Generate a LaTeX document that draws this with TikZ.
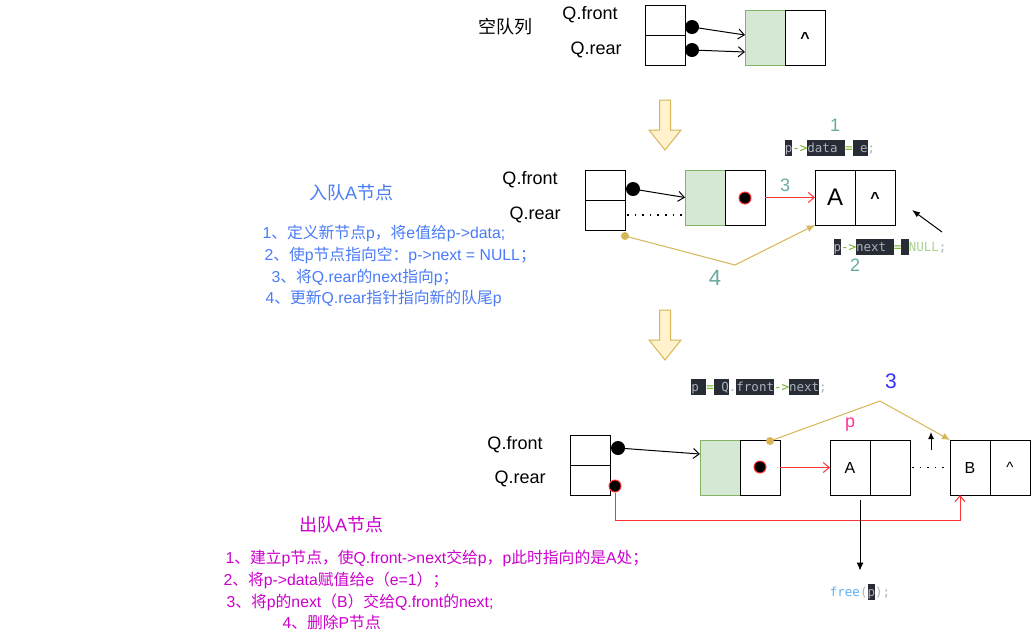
\documentclass[tikz,border=0pt]{standalone}
\usepackage{fontspec}
\setmainfont{Liberation Sans}
\newfontfamily\cjk{Noto Sans CJK SC}
\newfontfamily\codefont{DejaVu Sans Mono}
\usetikzlibrary{arrows.meta,calc}
\definecolor{gfill}{HTML}{D5E8D4}
\definecolor{gdraw}{HTML}{82B366}
\definecolor{yfill}{HTML}{FFF2CC}
\definecolor{ydraw}{HTML}{D6B656}
\definecolor{teal1}{HTML}{67AB9F}
\definecolor{blue1}{HTML}{4A7BF7}
\definecolor{mag1}{HTML}{CC00CC}
\definecolor{red1}{HTML}{FF3333}
\definecolor{blue3}{HTML}{3333FF}
\definecolor{pink1}{HTML}{FF3399}
\definecolor{codebg}{HTML}{282C34}
\definecolor{codefg}{HTML}{ABB2BF}
\definecolor{codeop}{HTML}{6FAE1E}
\definecolor{codenull}{HTML}{A5D38A}
\definecolor{codefree}{HTML}{61AFEF}
\newcommand\hlc[1]{{\setlength\fboxsep{0pt}\colorbox{codebg}{\rule[-4pt]{0pt}{16pt}\textcolor{codefg}{#1}}}}
\newcommand\gop[1]{\textcolor{codeop}{#1}}
\newcommand\pun[1]{\textcolor{codefg}{#1}}
\newcommand\cspace{\hphantom{x}}
\begin{document}
\begin{tikzpicture}[x=1pt,y=-1pt,line width=1pt,
  cell/.style={draw=black,fill=white,minimum width=40pt,minimum height=30pt,inner sep=0pt,outer sep=0pt},
  tcell/.style={cell,minimum height=55pt},
  gcell/.style={tcell,fill=gfill,draw=gdraw},
  bdot/.style={circle,fill=black,inner sep=0pt,minimum size=14pt},
  rdot/.style={circle,fill=black,draw=red1,line width=1pt,inner sep=0pt,minimum size=12pt},
  ydot/.style={circle,fill=ydraw,inner sep=0pt,minimum size=8pt},
  oarr/.style={-{Straight Barb[length=6pt,width=10pt]}},
  farr/.style={-{Latex[length=8pt,width=7pt]}},
  lbl/.style={inner sep=0pt,font=\fontsize{18}{21}\selectfont},
  num/.style={inner sep=0pt,text=teal1,font=\fontsize{18}{21}\selectfont},
  code/.style={inner sep=0pt,font=\codefont\fontsize{12.5}{15}\selectfont},
  btxt/.style={inner sep=0pt,anchor=west,text=blue1,font=\fontsize{15.8}{18}\selectfont},
  mtxt/.style={inner sep=0pt,anchor=west,text=mag1,font=\fontsize{15.8}{18}\selectfont},
  fat/.style={fill=yfill,draw=ydraw,line width=1pt}]
\useasboundingbox[fill=white] (0,0) rectangle (1032,641);

% ---------- top: empty queue ----------
\node[lbl] (t0) at (505,27) {\cjk 空队列};
\node[lbl] (qf1) at (590,15) {Q.front};
\node[lbl] (qr1) at (596,50) {Q.rear};
\node[cell] (s1a) at (665,20) {};
\node[cell] (s1b) at (665,50) {};
\node[gcell] (g1) at (765,37.5) {};
\node[tcell,font=\bfseries\fontsize{16}{18}\selectfont] (w1) at (805,37.5) {\textasciicircum};
\draw[oarr] (692,27) -- ([yshift=2.5pt]g1.west);
\draw[oarr] (692,50) -- ([yshift=-14.5pt]g1.west);
\node[bdot] (d1) at (692,27) {};
\node[bdot] (d2) at (692,50) {};

% fat arrow 1
\draw[fat] (659.5,100) -- (670.5,100) -- (670.5,130) -- (681,130) -- (665,150) -- (649,130) -- (659.5,130) -- cycle;

% ---------- middle: enqueue ----------
\node[num] (n1) at (835,125) {1};
\node[code] (c1) at (830,148) {\hlc{p}\gop{->}\hlc{data\cspace}\gop{=}\hlc{\cspace e}\pun{;}};
\node[lbl] (qf2) at (530,180) {Q.front};
\node[lbl] (qr2) at (535,215) {Q.rear};
\node[cell] (s2a) at (605,185) {};
\node[cell] (s2b) at (605,215) {};
\node[gcell] (g2) at (705,197.5) {};
\node[tcell] (w2) at (745,197.5) {};
\node[tcell,font=\fontsize{24}{27}\selectfont] (a2) at (835,197.5) {A};
\node[tcell,font=\bfseries\fontsize{16}{18}\selectfont] (a2n) at (875,197.5) {\textasciicircum};
\node[rdot] (r2) at (745,198) {};
\draw[oarr] (633,189) -- (g2.west);
\node[bdot] (d3) at (633,189) {};
\draw[red1,oarr] (w2.east) -- (a2.west);
\node[num] (n3) at (785,185) {3};
\draw[line width=1.6pt,dash pattern=on 1.6pt off 6pt] ([xshift=2pt]s2b.east) -- ([yshift=-17.5pt]g2.west);
\node[ydot] (y2) at (625,236) {};
\coordinate (ym) at (735,265);
\draw[ydraw,farr] (y2.center) -- (ym) -- (a2.south west);
\node[num,font=\fontsize{22}{25}\selectfont] (n4) at (715,278) {4};
\coordinate (pa1) at (942,232);
\coordinate (pa2) at (912,210);
\draw[-{Latex[length=8pt,width=6pt]}] (pa1) -- (pa2);
\node[code] (c2) at (890,247) {\hlc{p}\gop{->}\hlc{next\cspace}\gop{=}\hlc{\cspace}\textcolor{codenull}{NULL}\pun{;}};
\node[num] (n2) at (855,265) {2};

\node[lbl,text=blue1] (h1) at (351,193) {{\cjk 入队}A{\cjk 节点}};
\node[btxt] (b1) at (262,233) {1{\cjk 、定义新节点}p{\cjk ，将}e{\cjk 值给}p->data;};
\node[btxt] (b2) at (264,255) {2{\cjk 、使}p{\cjk 节点指向空：}p->next = NULL{\cjk ；}};
\node[btxt] (b3) at (271,277) {3{\cjk 、将}Q.rear{\cjk 的}next{\cjk 指向}p{\cjk ；}};
\node[btxt] (b4) at (265,298) {4{\cjk 、更新}Q.rear{\cjk 指针指向新的队尾}p};

% fat arrow 2
\draw[fat] (659.5,310) -- (670.5,310) -- (670.5,340) -- (681,340) -- (665,360) -- (649,340) -- (659.5,340) -- cycle;

% ---------- bottom: dequeue ----------
\node[code] (c3) at (759,387) {\hlc{p\cspace}\gop{=}\hlc{\cspace Q}\pun{.}\hlc{front}\gop{->}\hlc{next}\pun{;}};
\node[lbl,text=blue3,font=\fontsize{21}{24}\selectfont] (n3b) at (891,381) {3};
\node[lbl,text=pink1] (pp) at (850,425) {p};
\node[lbl] (qf3) at (515,445) {Q.front};
\node[lbl] (qr3) at (520,479) {Q.rear};
\node[cell] (s3a) at (590,450) {};
\node[cell] (s3b) at (590,480) {};
\node[gcell] (g3) at (720,467.5) {};
\node[tcell] (w3) at (760,467.5) {};
\node[tcell,font=\fontsize{16}{19}\selectfont] (a3) at (850,467.5) {A};
\node[tcell] (a3n) at (890,467.5) {};
\node[tcell,font=\fontsize{16}{19}\selectfont] (b3n) at (970,467.5) {B};
\node[tcell,font=\fontsize{15}{17}\selectfont] (b3x) at (1010,467.5) {\textasciicircum};
\draw[oarr] (618,448) -- ([yshift=13.5pt]g3.west);
\node[bdot] (d5) at (618,448) {};
\node[rdot] (r5) at (615,486) {};
\node[rdot] (r3) at (760,467) {};
\draw[red1,oarr] (w3.east) -- (a3.west);
\draw[line width=1.6pt,dash pattern=on 1.6pt off 6pt] ([xshift=2pt]a3n.east) -- (b3n.west);
\node[ydot] (y3) at (770,441) {};
\coordinate (yb) at (880,401);
\draw[ydraw,farr] (y3.center) -- (yb) -- (b3n.north west);
\coordinate (ua1) at (931,450);
\coordinate (ua2) at (931,432);
\draw[-{Latex[length=7pt,width=6pt]}] (ua1) -- (ua2);
\draw[red1,oarr] (r5.south) |- ([shift={(-10,25)}]b3n.south) -- ([xshift=-10pt]b3n.south);
\node[code] (c4) at (860,592) {\textcolor{codefree}{free}\pun{(}\hlc{p}\pun{);}};
\draw[-{Latex[length=8pt,width=7pt]}] ([shift={(10,5)}]a3.south) -- ([yshift=13pt]c4.north);

\node[lbl,text=mag1] (h2) at (341,525) {{\cjk 出队}A{\cjk 节点}};
\node[mtxt] (m1) at (225,558) {1{\cjk 、建立}p{\cjk 节点，使}Q.front->next{\cjk 交给}p{\cjk ，}p{\cjk 此时指向的是}A{\cjk 处；}};
\node[mtxt] (m2) at (223,580) {2{\cjk 、将}p->data{\cjk 赋值给}e{\cjk （}e=1{\cjk ）；}};
\node[mtxt] (m3) at (226,602) {3{\cjk 、将}p{\cjk 的}next{\cjk （}B{\cjk ）交给}Q.front{\cjk 的}next;};
\node[mtxt] (m4) at (282,622) {4{\cjk 、删除}P{\cjk 节点}};
\end{tikzpicture}
\end{document}
